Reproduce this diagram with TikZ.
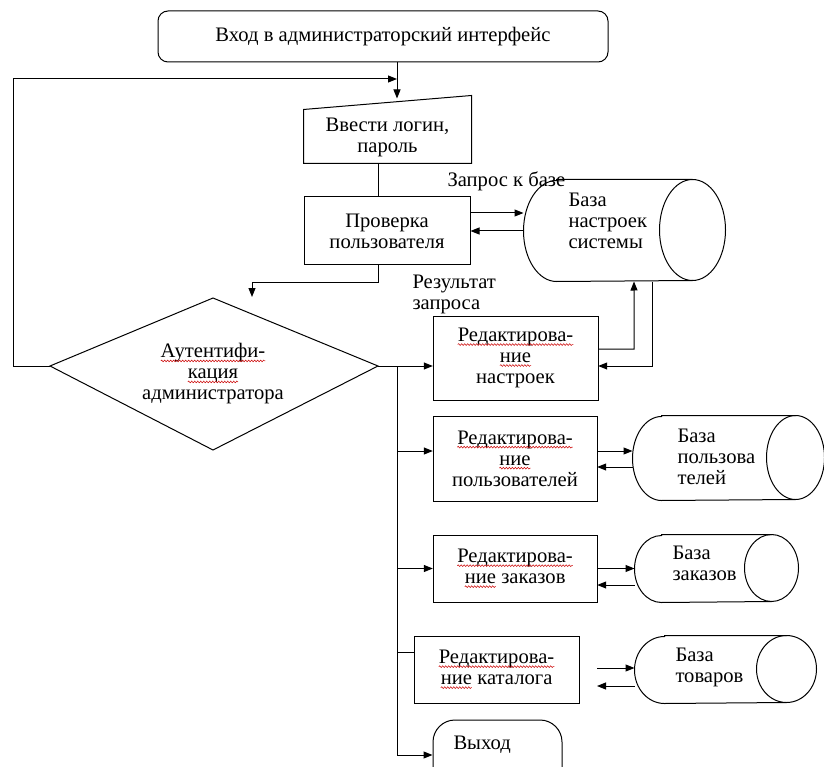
\documentclass[tikz,border=0pt]{standalone}
\usepackage{fontspec}
\setmainfont{Liberation Serif}
\usetikzlibrary{arrows.meta,decorations.pathmorphing}
\newcommand\rwave[1]{\tikz[baseline=(w.base)]{\node[draw=none,fill=none,minimum width=0pt,minimum height=0pt,anchor=center,inner sep=0pt,outer sep=0pt] (w) {#1};
  \draw[red!80!black,line width=0.5pt,rounded corners=0pt,decorate,decoration={snake,amplitude=0.9pt,segment length=3pt}] ([yshift=-3pt]w.base west) -- ([yshift=-3pt]w.base east);}}
\newcommand\dbshape[3]{%
  \draw ([xshift=#2]#1.north west) -- ([xshift=-#2]#1.north east)
    arc[start angle=90,end angle=-90,x radius=#2,y radius=#3]
    -- ([xshift=#2]#1.south west)
    arc[start angle=270,end angle=90,x radius=#2,y radius=#3] -- cycle;
  \draw ([xshift=-#2]#1.north east) arc[start angle=90,end angle=270,x radius=#2,y radius=#3];}
\begin{document}
\begin{tikzpicture}[x=1pt,y=1pt,line width=1pt,
  >={Triangle[length=9pt,width=7pt]},
  every node/.style={font=\fontsize{20.6}{21}\selectfont},
  box/.style={draw,rectangle,align=center,inner sep=2pt},
  rbox/.style={box,rounded corners=10pt},
  frame/.style={rectangle,inner sep=0pt},
  txt/.style={align=left,inner sep=0pt}]
\useasboundingbox (0,0) rectangle (824,-767);
\fill[white] (0,0) rectangle (824,-767);

% coordinates
\coordinate (bx) at (397,0);
\coordinate (c378) at (378,0);
\coordinate (loop) at (397,-79);
\coordinate (arrT) at (252,-297);
\coordinate (diaW) at (50,-366);
\coordinate (diaE) at (378,-366);
\coordinate (diaN) at (213,-298);
\coordinate (diaS) at (213,-450);
\coordinate (catR) at (597,0);

% top
\node[rbox,minimum width=450pt,minimum height=51pt] (top) at (383,-36.5) {Вход в администраторский интерфейс};

% manual input
\node[frame,minimum width=167pt,minimum height=67pt] (inp) at (387.5,-129.5) {};
\draw (inp.south west) -- (inp.south east) -- (inp.north east) -- ([yshift=-14pt]inp.north west) -- cycle;
\node[align=center,inner sep=0pt] (inpT) at (387.5,-137) {Ввести логин,\\пароль};

% check
\node[box,minimum width=166pt,minimum height=68pt] (chk) at (387,-231) {Проверка\\пользователя};

% diamond
\draw (diaW) -- (diaN) -- (diaE) -- (diaS) -- cycle;
\node[align=center,inner sep=0pt] (dia) at (213,-374) {\rwave{Аутентифи-}\\\rwave{кация}\\администратора};

% edit boxes
\node[box,minimum width=165pt,minimum height=84pt] (ed1) at (515.5,-358) {\rwave{Редактирова-}\\\rwave{ние}\\настроек};
\node[box,minimum width=164pt,minimum height=85pt] (ed2) at (515,-458.5) {\rwave{Редактирова-}\\\rwave{ние}\\пользователей};
\node[box,minimum width=164pt,minimum height=67pt] (ed3) at (515,-568.5) {\rwave{Редактирова-}\\\rwave{ние} заказов};
\node[box,minimum width=165pt,minimum height=67pt] (ed4) at (496.5,-669.5) {\rwave{Редактирова-}\\\rwave{ние} каталога};
\node[draw,rounded corners=22pt,minimum width=129pt,minimum height=70pt] (ex) at (497.5,-755) {};
\node[anchor=west,inner sep=0pt] (exT) at (453,-745) {Выход};

% databases
\node[frame,minimum width=201pt,minimum height=101pt] (db1) at (624.5,-230.5) {};
\dbshape{db1}{33pt}{50.5pt}
\node[txt,anchor=west] (db1T) at (568,-221) {База\\настроек\\системы};
\node[frame,minimum width=191pt,minimum height=84pt] (db2) at (728.5,-458) {};
\dbshape{db2}{29pt}{42pt}
\node[txt,anchor=west] (db2T) at (677,-457) {База\\пользова\\телей};
\node[frame,minimum width=163pt,minimum height=67pt] (db3) at (716.5,-568.5) {};
\dbshape{db3}{27pt}{33.5pt}
\node[txt,anchor=west] (db3T) at (672,-563) {База\\заказов};
\node[frame,minimum width=181pt,minimum height=67pt] (db4) at (725.5,-669.5) {};
\dbshape{db4}{30pt}{33.5pt}
\node[txt,anchor=west] (db4T) at (675,-667) {База\\товаров};

% labels
\node[txt,anchor=west] (lq) at (447,-181) {Запрос к базе};
\node[txt,anchor=west] (lr) at (412,-294) {Результат\\запроса};

% connectors
\draw[->] (top.south -| bx) -- ++(0,-36);
\draw[->] (diaW) -- ++(-37,0) |- (loop);
\draw (inp.south -| c378) -- (chk.north -| c378);
\draw[->] (chk.south -| c378) -- ++(0,-17) -| (arrT);
\draw[->] ([yshift=18pt]chk.east) -- ([yshift=18pt]chk.east -| db1.west);
\draw[->] (db1.west |- chk.east) -- (chk.east);
\draw[->] (diaE) -- (ed1.west |- diaE);
\draw[->] (bx |- diaE) -- (bx |- ex.west) -- (ex.west);
\draw[->] ([yshift=7.5pt]ed2.west -| bx) -- ([yshift=7.5pt]ed2.west);
\draw[->] (ed3.west -| bx) -- (ed3.west);
\draw ([yshift=17.5pt]ed4.west -| bx) -- ([yshift=17.5pt]ed4.west);
% settings
\draw[->] ([yshift=9pt]ed1.east) -- ++(36,0) -- ([xshift=9.5pt]db1.south);
\draw[->] ([xshift=27.5pt]db1.south) |- (ed1.east |- diaE);
% users
\draw[->] ([yshift=7.5pt]ed2.east) -- ([yshift=7.5pt]ed2.east -| db2.west);
\draw[->] ([yshift=-8.5pt]ed2.east -| db2.west) -- ([yshift=-8.5pt]ed2.east);
% orders
\draw[->] (ed3.east) -- (ed3.east -| db3.west);
\draw[->] ([yshift=-16.5pt]ed3.east -| db3.west) -- ([yshift=-16.5pt]ed3.east);
% catalog
\draw[->] ([yshift=1.5pt]ed4.east -| catR) -- ([yshift=1.5pt]db4.west);
\draw[->] ([yshift=-16.5pt]db4.west) -- ([yshift=-16.5pt]db4.west -| catR);
\end{tikzpicture}
\end{document}
